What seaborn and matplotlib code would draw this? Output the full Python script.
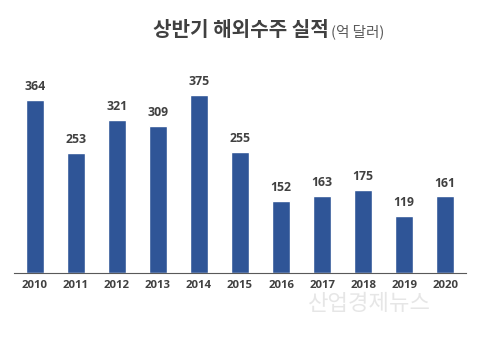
import matplotlib
matplotlib.use("Agg")
import matplotlib.pyplot as plt
import seaborn as sns
import pandas as pd

years = ["2010", "2011", "2012", "2013", "2014", "2015", "2016", "2017", "2018", "2019", "2020"]
values = [364, 253, 321, 309, 375, 255, 152, 163, 175, 119, 161]
title_main = "상반기 해외수주 실적"
title_unit = "(억 달러)"
watermark = "산업경제뉴스"

sns.set_theme(style="white")
plt.rcParams['font.family'] = ['Noto Sans CJK KR', 'DejaVu Sans']

df = pd.DataFrame({"year": years, "value": values})

fig = plt.figure(figsize=(4.8, 3.51), dpi=100)
ax = fig.add_axes([14/480, 78/351, 452/480, 213/351])
sns.barplot(data=df, x="year", y="value", color="#2F5597", width=0.44,
            saturation=1, ax=ax)
ax.set_xlim(-0.51, 10.51)
ax.set_ylim(0, 448)
for s in ["top", "right", "left"]:
    ax.spines[s].set_visible(False)
ax.spines["bottom"].set_color("#595959")
ax.spines["bottom"].set_linewidth(0.8)
ax.set_yticks([])
ax.set_xlabel("")
ax.set_ylabel("")
ax.tick_params(axis="x", length=0, pad=5)
for lbl in ax.get_xticklabels():
    lbl.set_fontfamily(['Open Sans', 'DejaVu Sans'])
    lbl.set_fontweight("bold")
    lbl.set_fontsize(8.2)
    lbl.set_color("#404040")

for i, v in enumerate(values):
    ax.annotate(str(v), (i, v), xytext=(0, 5), textcoords="offset points",
                ha="center", va="bottom", fontsize=8.8, fontweight="bold",
                color="#404040", family=['Open Sans', 'DejaVu Sans'])

fig.text(153/480, 1 - 30/351, title_main, fontsize=14.5, fontweight="bold",
         color="#404040", ha="left", va="center")
fig.text(331/480, 1 - 32/351, title_unit, fontsize=10.5, color="#595959",
         ha="left", va="center")
fig.text(369/480, 1 - 303/351, watermark, fontsize=16, color="#dcdcdc",
         alpha=0.7, ha="center", va="center", zorder=0)

fig.savefig("out.png", dpi=100)
